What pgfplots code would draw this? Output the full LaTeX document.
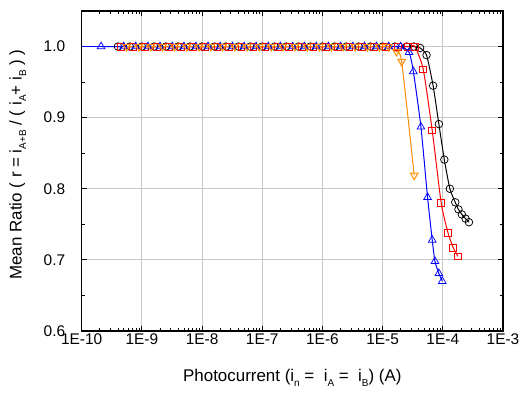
\documentclass[border=0pt]{standalone}
\usepackage{pgfplots}
\pgfplotsset{compat=1.18}
\usepackage{fontspec}
\setmainfont{Liberation Sans}
\definecolor{myorange}{RGB}{255,140,0}
\newcommand\sub[1]{\raisebox{-0.5ex}{\fontsize{10}{10}\selectfont #1}}
\begin{document}
\begin{tikzpicture}
\useasboundingbox (-81.7bp,-63bp) rectangle (439.3bp,331bp);
\begin{axis}[
  scale only axis,
  width=421.3bp, height=320bp,
  xmode=log,
  xmin=1e-10, xmax=1e-3,
  ymin=0.6, ymax=1.05,
  xtick={1e-10,1e-9,1e-8,1e-7,1e-6,1e-5,1e-4,1e-3},
  xticklabels={1E-10,1E-9,1E-8,1E-7,1E-6,1E-5,1E-4,1E-3},
  ytick={0.6,0.7,0.8,0.9,1.0},
  minor ytick={0.65,0.75,0.85,0.95},
  /pgf/number format/fixed,
  /pgf/number format/fixed zerofill,
  /pgf/number format/precision=1,
  /pgf/number format/assume math mode=true,
  yticklabel style={xshift=-13bp},
  xticklabel style={yshift=1bp},
  tick label style={font=\fontsize{15.5}{18}\selectfont},
  label style={font=\fontsize{17}{20}\selectfont},
  tick align=inside,
  major tick length=5bp,
  minor tick length=3bp,
  every tick/.style={black, line width=0.8pt},
  axis line style={line width=1.3pt},
  xmajorgrids, ymajorgrids,
  major grid style={color=black!22, line width=0.8pt},
  xlabel={Photocurrent (i\sub{n}\ = \ i\sub{A}\ = \ i\sub{B}) (A)},
  ylabel={Mean Ratio ( r = i\sub{A+B}\ / ( i\sub{A}+ i\sub{B}\ ) )},
  xlabel style={at={(axis description cs:0.5,-0.147)}, anchor=center},
  ylabel style={at={(axis description cs:-0.152,0.52)}, anchor=center},
  every axis plot/.append style={line width=1pt, mark options={solid, line width=0.75pt, fill=none}},
]
% black circles
\addplot[black, smooth, tension=0.35, mark=o, mark size=3.8pt] coordinates {
(4.0e-10,1.0)(6.3e-10,1.0)(1.0e-9,1.0)(1.6e-9,1.0)(2.5e-9,1.0)(4.0e-9,1.0)(6.3e-9,1.0)
(1.0e-8,1.0)(1.6e-8,1.0)(2.5e-8,1.0)(4.0e-8,1.0)(6.3e-8,1.0)(1.0e-7,1.0)(1.6e-7,1.0)
(2.5e-7,1.0)(4.0e-7,1.0)(6.3e-7,1.0)(1.0e-6,1.0)(1.6e-6,1.0)(2.5e-6,1.0)(4.0e-6,1.0)
(6.3e-6,1.0)(1.0e-5,1.0)(1.6e-5,1.0)(2.5e-5,1.0)(3.3e-5,1.0)(4.2e-5,0.998)(5.37e-5,0.988)
(6.9e-5,0.945)(8.6e-5,0.891)(1.06e-4,0.841)(1.31e-4,0.800)(1.61e-4,0.781)(1.82e-4,0.771)
(2.07e-4,0.764)(2.39e-4,0.758)(2.72e-4,0.753)
};
% red squares
\addplot[red, smooth, tension=0.35, mark=square, mark size=3.4pt] coordinates {
(4.5e-10,1.0)(7.1e-10,1.0)(1.13e-9,1.0)(1.8e-9,1.0)(2.8e-9,1.0)(4.5e-9,1.0)(7.1e-9,1.0)
(1.13e-8,1.0)(1.8e-8,1.0)(2.8e-8,1.0)(4.5e-8,1.0)(7.1e-8,1.0)(1.13e-7,1.0)(1.8e-7,1.0)
(2.8e-7,1.0)(4.5e-7,1.0)(7.1e-7,1.0)(1.13e-6,1.0)(1.8e-6,1.0)(2.8e-6,1.0)(4.5e-6,1.0)
(7.1e-6,1.0)(1.13e-5,1.0)(1.8e-5,1.0)(2.6e-5,1.0)(3.44e-5,1.0)(4.73e-5,0.968)(6.67e-5,0.882)
(9.4e-5,0.780)(1.22e-4,0.738)(1.49e-4,0.717)(1.78e-4,0.705)
};
% blue lead-in line
\addplot[blue, no marks] coordinates {(1e-10,1.0)(5e-10,1.0)};
% blue triangles
\addplot[blue, smooth, tension=0.35, mark=triangle, mark size=4.4pt] coordinates {
(2.1e-10,1.0)(5.0e-10,1.0)(7.9e-10,1.0)(1.26e-9,1.0)(2.0e-9,1.0)(3.2e-9,1.0)(5.0e-9,1.0)(7.9e-9,1.0)
(1.26e-8,1.0)(2.0e-8,1.0)(3.2e-8,1.0)(5.0e-8,1.0)(7.9e-8,1.0)(1.26e-7,1.0)(2.0e-7,1.0)
(3.2e-7,1.0)(5.0e-7,1.0)(7.9e-7,1.0)(1.26e-6,1.0)(2.0e-6,1.0)(3.2e-6,1.0)(5.0e-6,1.0)
(7.9e-6,1.0)(1.26e-5,1.0)(2.0e-5,1.0)(2.75e-5,0.992)(3.24e-5,0.965)(4.33e-5,0.887)
(5.58e-5,0.788)(6.67e-5,0.728)(7.4e-5,0.698)(8.6e-5,0.681)(9.8e-5,0.670)
};
% orange down triangles
\addplot[myorange, smooth, tension=0.35, mark=triangle, mark options={rotate=180}, mark size=4.4pt] coordinates {
(5.6e-10,1.0)(8.9e-10,1.0)(1.41e-9,1.0)(2.2e-9,1.0)(3.5e-9,1.0)(5.6e-9,1.0)(8.9e-9,1.0)
(1.41e-8,1.0)(2.2e-8,1.0)(3.5e-8,1.0)(5.6e-8,1.0)(8.9e-8,1.0)(1.41e-7,1.0)(2.2e-7,1.0)
(3.5e-7,1.0)(5.6e-7,1.0)(8.9e-7,1.0)(1.41e-6,1.0)(2.2e-6,1.0)(3.5e-6,1.0)(5.6e-6,1.0)
(8.9e-6,1.0)(1.25e-5,1.0)(1.7e-5,0.993)(2.07e-5,0.979)(3.35e-5,0.819)
};
\end{axis}
\end{tikzpicture}
\end{document}
